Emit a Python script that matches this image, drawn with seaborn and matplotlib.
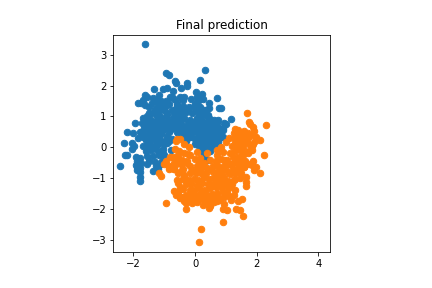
import matplotlib
matplotlib.use('Agg')
import matplotlib.pyplot as plt
import seaborn as sns

# values
blue_x = [-1.62, 0.32, -0.95, -0.84, 0.16, -0.65, -0.63, -0.26, -0.27, -0.45, -1.32, -1.03, -0.9, -0.72,
          0.03, 0.22, -1.64, -1.16, -0.81, -0.36, 0.05, 0.70, -1.37, -1.68, -0.70, -0.40, 0.27, 0.46, -1.84, -1.61,
          0.76, 0.85, -1.75, -1.4, -1.2, -1.05, -0.85, -0.6, -0.4, -0.2, 0.0, 0.15, 0.35, 0.42,
          -1.3, -1.15, -1.0, -0.75, -0.55, -0.3, -0.1, 0.1, 0.28, 0.45, 0.6, 1.15, 0.7, 0.95,
          -1.7, -1.55, -1.45, -1.25, -1.1, -0.9, -0.7, -0.5, -0.35, -0.15, 0.05, 0.2, 0.4, 0.48, 0.75, 0.82,
          -1.95, -1.72, -1.6, -1.35, -1.2, -1.02, -0.82, -0.62, -0.42, -0.22, -0.05, 0.12, 0.32, 0.55, 0.68, 0.9,
          -2.2, -2.0, -1.75, -1.55, -1.38, -1.2, -1.0, -0.75, -0.55, -0.38, -0.18, 0.02, 0.18, 0.38, 0.5, 0.65, 0.85, 0.92,
          -2.3, -2.05, -1.85, -1.65, -1.45, -1.28, -1.1, -0.92, -0.3, -0.12, 0.08, 0.25, 0.42, 0.58, 0.72, 0.88,
          -2.27, -1.98, -1.6, -1.5, -1.3, -1.12, -0.95, 0.0, 0.15, 0.3, 0.45, 0.6, 0.75,
          -2.05, -1.7, -1.55, -1.38, -1.2, -1.0, -0.85, 0.12, 0.25, 0.38, 0.52, 0.65,
          -2.2, -1.92, -1.58, -1.42, -1.22, -1.05, 0.22, 0.35, 0.48,
          -1.9, -1.78, -1.55, -1.38, -1.18, -1.0, 0.3, 0.42,
          -1.92, -1.75, -1.5, -1.3, -1.08, -2.45,
          -1.9, -1.78, -1.55, -1.28, -1.1, -1.9, -1.8, -1.35, -1.2, -1.78, -1.78,
          -0.95, -0.6, -0.5, -0.25, -0.05, 0.2, 0.5, 0.62, -1.45, -0.8, -0.3, 0.1, -0.65, 0.35,
          -1.25, -0.95, -0.45, 0.05, 0.55, -0.15, 0.3, 0.8,
          -1.55, -1.48, -1.25, -1.1, -0.95, -0.75, -0.6, -0.5, -0.3, -0.12, 0.1, 0.2,
          -1.5, -1.35, -1.2, -1.05, -0.9, -0.7, -0.5, -0.25, -0.05, 0.15, 0.3, 0.45,
          -1.42, -1.25, -1.12, -0.88, -0.68, -0.45, -0.18, 0.02, 0.25, 0.42,
          -1.65, -1.5, -1.3, -1.15, -0.95, -0.72, -0.48, -0.25, -0.02, 0.18,
          -1.8, -1.45, -1.28, -1.08, -0.85, -0.6, -0.35, -0.1, 0.12, 0.3,
          -1.7, -1.4, -1.18, -0.9, -0.75, -0.5, -0.2, 0.0,
          -1.5, -1.25, -1.05, -0.78, -0.55, -0.28, 1.0, 0.92]
blue_y = [3.34, 2.51, 2.42, 2.34, 2.17, 2.15, 2.1, 2.10, 2.0, 1.92, 1.88, 1.90, 1.92, 1.84,
          1.78, 1.73, 1.70, 1.69, 1.64, 1.64, 1.62, 1.60, 1.59, 1.53, 1.56, 1.53, 1.56, 1.43, 1.44, 1.37,
          1.28, 1.29, 1.45, 1.45, 1.38, 1.4, 1.42, 1.45, 1.35, 1.3, 1.42, 1.3, 1.2, 1.05,
          1.25, 1.2, 1.22, 1.2, 1.18, 1.15, 1.1, 1.15, 1.05, 0.95, 0.88, 0.92, 0.75, 0.8,
          0.95, 1.0, 0.92, 1.0, 0.98, 1.0, 0.95, 0.98, 0.95, 0.9, 0.95, 0.9, 0.85, 0.7, 0.88, 0.6,
          0.8, 0.78, 0.85, 0.82, 0.75, 0.8, 0.78, 0.8, 0.72, 0.78, 0.75, 0.7, 0.7, 0.65, 0.7, 0.62,
          0.48, 0.45, 0.5, 0.65, 0.6, 0.55, 0.6, 0.62, 0.6, 0.58, 0.6, 0.55, 0.55, 0.5, 0.45, 0.5, 0.45, 0.35,
          0.15, 0.15, 0.3, 0.42, 0.4, 0.42, 0.42, 0.38, 0.45, 0.4, 0.4, 0.35, 0.3, 0.35, 0.3, 0.32,
          -0.25, 0.05, 0.25, 0.2, 0.25, 0.22, 0.25, 0.28, 0.2, 0.15, 0.2, 0.15, 0.18,
          -0.05, 0.05, 0.05, 0.05, 0.1, 0.1, 0.2, 0.05, 0.02, 0.05, 0.05, 0.05,
          -0.25, -0.32, -0.12, -0.1, -0.08, -0.05, -0.12, -0.1, -0.12,
          -0.45, -0.35, -0.28, -0.28, -0.25, -0.25, -0.3, -0.4,
          -0.58, -0.52, -0.45, -0.48, -0.45, -0.6,
          -0.75, -0.68, -0.55, -0.62, -0.55, -0.65, -0.8, -0.78, -0.7, -0.95, -1.1,
          1.5, 1.35, 0.5, 0.6, 0.55, 0.8, 0.25, 0.15, 0.7, 0.55, 0.2, 0.55, 0.95, 0.6,
          0.9, 0.75, 1.1, 1.2, 0.75, 0.35, 0.42, 0.45,
          1.62, 1.3, 1.55, 1.5, 1.35, 1.62, 1.32, 1.62, 1.2, 1.58, 1.5, 1.6,
          1.12, 1.1, 1.05, 1.3, 1.12, 1.05, 1.25, 1.22, 1.3, 1.05, 1.2, 1.28,
          0.7, 0.85, 0.88, 0.88, 0.85, 0.88, 0.82, 0.85, 0.78, 0.78,
          0.62, 0.55, 0.7, 0.7, 0.7, 0.7, 0.68, 0.65, 0.62, 0.6,
          0.48, 0.48, 0.52, 0.52, 0.5, 0.5, 0.48, 0.48, 0.42, 0.4,
          0.35, 0.3, 0.35, 0.15, 0.28, 0.4, 0.32, 0.1,
          0.2, 0.1, -0.2, -0.1, 0.45, 0.3, 0.75, 0.55]

orange_x = [1.70, 2.29, 1.76, 1.78, 1.28, 1.89, 1.92, 1.60, 1.51, 1.35, 2.11, 1.98, 1.73, 2.22, 1.89, 1.84,
            1.73, 1.89, 1.84, 1.98, 2.09, 1.65, 1.65, 1.51, 1.46, 1.54, 1.33, 1.03, 0.89, 0.90, 0.2, 0.12, 0.49, 0.44,
            -0.28, -0.93, -1.09, -1.16, -0.6, -0.62, -0.5, -0.35, -0.2, -0.65, -0.52, -0.35, -0.15, 0.05,
            1.0, 0.85, 0.7, 1.3, 1.45, 1.6, 1.75, 1.85, 1.4, 1.55, 1.2, 1.35,
            -0.95, -0.8, -0.6, -0.42, -0.22, 0.0, 0.15, 0.72, 0.9, 1.12, 1.3, 1.5, 1.68,
            -1.0, -0.85, -0.7, -0.45, -0.25, 0.12, 0.3, 0.5, 0.68, 0.85, 1.05, 1.22, 1.38, 1.55,
            -0.85, -0.7, -0.4, 0.05, 0.22, 0.4, 0.58, 0.75, 0.95, 1.12, 1.3, 1.48, 1.62,
            -0.6, -0.35, -0.15, 0.02, 0.18, 0.35, 0.55, 0.72, 0.88, 1.05, 1.22, 1.4, 1.52,
            -0.55, -0.38, -0.2, -0.05, 0.1, 0.28, 0.45, 0.62, 0.8, 0.95, 1.12, 1.3, 1.45,
            -0.5, -0.3, -0.12, 0.05, 0.22, 0.42, 0.6, 0.78, 0.92, 1.08, 1.28,
            -0.7, -0.55, -0.38, -0.18, -0.02, 0.15, 0.32, 0.5, 0.68, 0.85, 1.0, 1.2,
            -0.62, -0.45, -0.3, -0.12, 0.05, 0.2, 0.38, 0.55, 0.72, 0.9, 1.05, 1.3,
            -0.5, -0.35, -0.2, -0.05, 0.12, 0.3, 0.45, 0.62, 0.78, 0.95, 1.1, 1.25,
            -0.28, -0.1, 0.05, 0.42, 0.5, 1.4, 0.7, 0.25, 0.82, 1.18, 0.32, 0.6,
            1.05, 0.95, 0.85, 1.6, 1.75, 1.5, 1.25, 1.15, 1.9, 1.65, 1.45,
            0.3, 0.55, 0.1, -0.35, -0.1, -0.78, 1.0, 1.38, 0.75, 0.2, 0.4, 0.95,
            -0.72, -0.55, -0.42, -0.62, -0.25, -0.85, -0.7, -0.45, -0.15, -0.55,
            1.1, 1.25, 1.4, 1.55, 1.72, 1.85, 1.95, 1.28, 1.45, 1.62, 1.78, 1.5, 1.35, 1.6, 1.2]
orange_y = [1.10, 0.71, 0.83, 0.76, 0.60, 0.67, 0.54, 0.54, 0.45, 0.45, 0.25, 0.32, 0.29, -0.24, 0.11, -0.09,
            -0.19, -0.46, -0.59, -0.63, -0.84, -1.11, -1.25, -1.68, -2.02, -2.24, -2.0, -2.04, -2.01, -2.42, -2.65, -3.07, -1.92, -1.98,
            -2.01, -1.81, -0.92, -0.84, 0.27, 0.2, 0.28, 0.1, 0.0, -0.05, -0.12, -0.2, -0.25, -0.15,
            0.18, 0.02, -0.1, 0.35, 0.3, 0.18, 0.12, 0.05, 0.1, 0.02, 0.05, -0.05,
            -0.45, -0.3, -0.35, -0.4, -0.22, -0.38, -0.35, -0.25, -0.15, -0.2, -0.12, -0.12, -0.15,
            -0.55, -0.65, -0.5, -0.55, -0.45, -0.52, -0.5, -0.42, -0.45, -0.38, -0.4, -0.32, -0.3, -0.25,
            -0.7, -0.72, -0.72, -0.6, -0.65, -0.68, -0.62, -0.6, -0.62, -0.55, -0.48, -0.5, -0.45,
            -1.05, -0.9, -0.85, -0.82, -0.85, -0.85, -0.78, -0.8, -0.75, -0.78, -0.7, -0.68, -0.65,
            -1.15, -1.02, -1.05, -1.02, -1.05, -0.98, -1.02, -0.98, -0.95, -0.98, -0.88, -0.85, -0.85,
            -1.3, -1.2, -1.2, -1.22, -1.15, -1.2, -1.15, -1.15, -1.12, -1.08, -1.02,
            -1.42, -1.45, -1.35, -1.38, -1.4, -1.35, -1.38, -1.32, -1.3, -1.28, -1.22, -1.2,
            -1.55, -1.62, -1.55, -1.55, -1.55, -1.5, -1.55, -1.5, -1.48, -1.45, -1.42, -1.38,
            -1.65, -1.75, -1.7, -1.72, -1.68, -1.72, -1.7, -1.65, -1.65, -1.6, -1.58, -1.55,
            -1.82, -1.8, -1.78, -1.82, -1.88, -1.75, -1.75, -1.88, -1.72, -1.72, -1.62, -1.78,
            -0.55, -0.4, -0.85, -0.65, -0.55, -0.85, -1.05, -1.3, -0.75, -0.95, -1.0,
            -0.9, -1.25, -0.7, -0.95, -0.75, -0.68, -0.5, -0.5, -1.0, -1.1, -0.2, -1.85,
            -0.3, -0.25, -0.5, -0.55, -0.52, -0.62, -0.7, -0.78, -0.62, -0.85,
            0.3, 0.45, 0.55, 0.4, 0.45, 0.4, 0.22, 0.2, 0.22, 0.3, -0.1, -0.3, -0.4, -0.65, -0.55]

fig = plt.figure(figsize=(6, 4), dpi=72)
ax = fig.add_axes([113.4 / 432, 1 - 252.4 / 288, 217 / 432, 217 / 288])

sns.scatterplot(x=blue_x, y=blue_y, color='#1f77b4', edgecolor='#1f77b4', s=42, linewidth=1, ax=ax)
sns.scatterplot(x=orange_x, y=orange_y, color='#ff7f0e', edgecolor='#ff7f0e', s=42, linewidth=1, ax=ax)

ax.set_xlim(-2.65, 4.39)
ax.set_ylim(-3.41, 3.63)
ax.set_xticks([-2, 0, 2, 4])
ax.set_yticks([-3, -2, -1, 0, 1, 2, 3])
ax.set_title('Final prediction')

fig.savefig('out.png', dpi=72)
